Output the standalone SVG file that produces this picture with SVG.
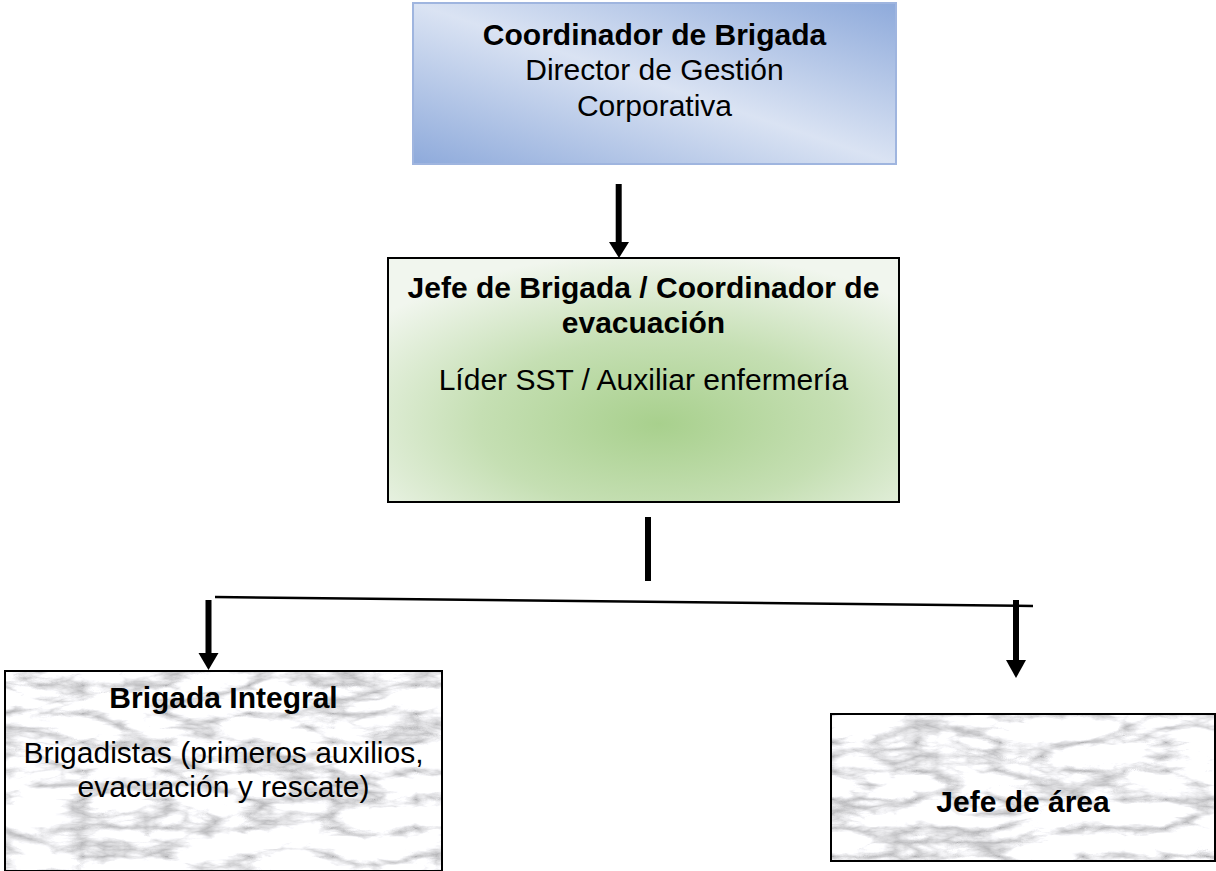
<svg xmlns="http://www.w3.org/2000/svg" width="1216" height="871" viewBox="0 0 1216 871">
<style>
  text { font-family: "Liberation Sans", Arial, sans-serif; font-size: 30px; fill: #000; text-anchor: middle; }
  .b { font-weight: bold; }
  .frame { fill: none; stroke: #000; stroke-width: 2; }
  .arrow { fill: #000; stroke: none; }
</style>
<defs>
  <linearGradient id="blueGrad" x1="0" y1="1" x2="1" y2="0">
    <stop offset="0" stop-color="#8eaadb"/>
    <stop offset="0.5" stop-color="#dae3f3"/>
    <stop offset="1" stop-color="#8eaadb"/>
  </linearGradient>
  <radialGradient id="greenGrad" cx="0.53" cy="0.68" r="0.7">
    <stop offset="0" stop-color="#a8d08d"/>
    <stop offset="0.5" stop-color="#c5dfb3"/>
    <stop offset="1" stop-color="#f1f6ee"/>
  </radialGradient>
  <filter id="marble" x="0" y="0" width="1" height="1" color-interpolation-filters="sRGB">
    <feTurbulence type="turbulence" baseFrequency="0.012 0.035" numOctaves="5" seed="11" result="t"/>
    <feColorMatrix in="t" type="matrix" values="0.9 0 0 0 0.70  0.9 0 0 0 0.70  0.9 0 0 0 0.71  0 0 0 0 1" result="c"/>
    <feComposite in="c" in2="SourceGraphic" operator="in"/>
  </filter>
</defs>

<g id="coordinador-brigada">
  <rect x="413" y="3" width="483" height="161" fill="url(#blueGrad)" stroke="#9fb5df" stroke-width="2"/>
  <text class="b" x="654.5" y="44.5">Coordinador de Brigada</text>
  <text x="654.5" y="80">Director de Gestión</text>
  <text x="654.5" y="115.5">Corporativa</text>
</g>

<g id="jefe-brigada">
  <rect x="388" y="258" width="511" height="244" fill="url(#greenGrad)" stroke="#000" stroke-width="2"/>
  <text class="b" x="643.5" y="298">Jefe de Brigada / Coordinador de</text>
  <text class="b" x="643.5" y="333">evacuación</text>
  <text x="643.5" y="390">Líder SST / Auxiliar enfermería</text>
</g>

<g id="brigada-integral">
  <rect x="5" y="671" width="437" height="200" fill="#eee" filter="url(#marble)"/>
  <rect class="frame" x="5" y="671" width="437" height="200"/>
  <text class="b" x="223.5" y="708">Brigada Integral</text>
  <text x="223.5" y="763">Brigadistas (primeros auxilios,</text>
  <text x="223.5" y="797">evacuación y rescate)</text>
</g>

<g id="jefe-area">
  <rect x="831" y="714" width="384" height="147" fill="#eee" filter="url(#marble)"/>
  <rect class="frame" x="831" y="714" width="384" height="147"/>
  <text class="b" x="1023" y="812">Jefe de área</text>
</g>

<g id="connectors">
  <rect class="arrow" x="615.7" y="184" width="6" height="60"/>
  <polygon class="arrow" points="609,242 629,242 619,258"/>
  <rect class="arrow" x="645" y="517" width="6" height="64"/>
  <line x1="215" y1="597" x2="1033" y2="606" stroke="#000" stroke-width="2.5"/>
  <rect class="arrow" x="205.5" y="600" width="6" height="55"/>
  <polygon class="arrow" points="198.5,653 218.5,653 208.5,670"/>
  <rect class="arrow" x="1013" y="600" width="6" height="62"/>
  <polygon class="arrow" points="1006,660 1026,660 1016,678"/>
</g>
</svg>
